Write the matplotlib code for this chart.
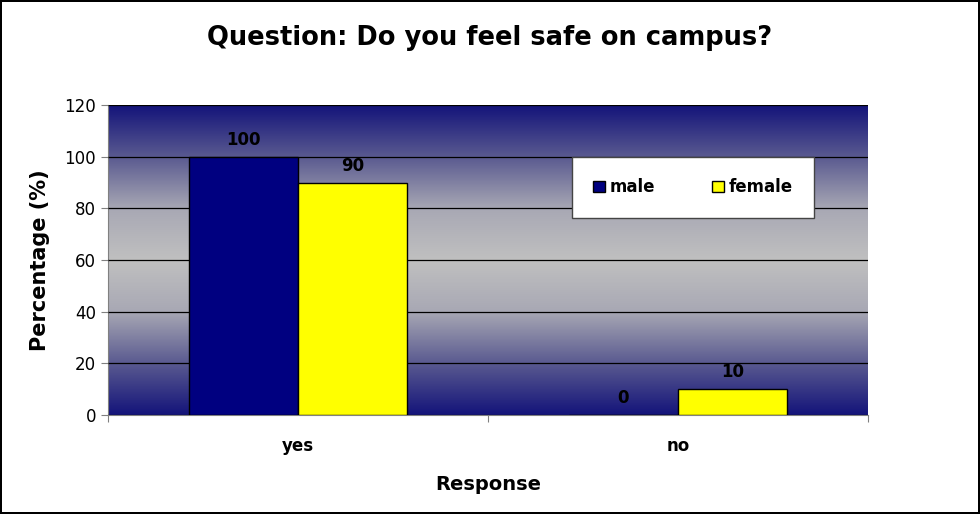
import matplotlib.pyplot as plt
import numpy as np
from matplotlib.colors import LinearSegmentedColormap

categories = ["yes", "no"]
male = [100, 0]
female = [90, 10]
series_names = ["male", "female"]

fig = plt.figure(figsize=(9.8, 5.14), dpi=100)
fig.patch.set_edgecolor("black")
fig.patch.set_linewidth(1.5)
ax = fig.add_axes([0.110, 0.1926, 0.7755, 0.603])

# gradient background: navy at top/bottom, grey in the middle
cmap = LinearSegmentedColormap.from_list("bg", ["#14147a", "#5a5a90", "#a8a8b4", "#c0c0c0",
                                                "#a8a8b4", "#5a5a90", "#14147a"])
grad = np.linspace(0, 1, 256).reshape(-1, 1)
ax.imshow(grad, cmap=cmap, aspect="auto", extent=[0, 1, 0, 1],
          transform=ax.transAxes, zorder=0)

x = np.arange(len(categories))
w = 0.287
ax.bar(x - w / 2, male, w, color="#000080", edgecolor="black", linewidth=1,
       label=series_names[0], zorder=3)
ax.bar(x + w / 2, female, w, color="#ffff00", edgecolor="black", linewidth=1,
       label=series_names[1], zorder=3)

for i in range(len(categories)):
    ax.text(x[i] - w / 2, male[i] + 3, str(male[i]), ha="center", va="bottom",
            fontsize=12, fontweight="bold", zorder=4)
    ax.text(x[i] + w / 2, female[i] + 3, str(female[i]), ha="center", va="bottom",
            fontsize=12, fontweight="bold", zorder=4)

ax.set_xlim(-0.5, 1.5)
ax.set_ylim(0, 120)
ax.set_yticks(range(0, 121, 20))
ax.yaxis.grid(True, color="black", linewidth=0.9, zorder=1)
ax.set_axisbelow(False)
ax.set_xticks([-0.5, 0.5, 1.5])
ax.set_xticklabels([])
ax.set_xticks(x, minor=True)
ax.set_xticklabels(categories, minor=True, fontsize=12, fontweight="bold")
ax.tick_params(axis="x", which="minor", length=0, pad=16)
ax.tick_params(axis="x", which="major", length=5, color="gray")
ax.tick_params(axis="y", labelsize=12, length=5, color="gray")
for s in ["top", "right"]:
    ax.spines[s].set_visible(False)
ax.spines["left"].set_color("gray")
ax.spines["bottom"].set_color("gray")

ax.set_xlabel("Response", fontsize=14, fontweight="bold", labelpad=14)
ax.set_ylabel("Percentage (%)", fontsize=15, fontweight="bold", labelpad=10)
fig.text(0.5, 0.926, "Question: Do you feel safe on campus?", ha="center", va="center",
         fontsize=18.5, fontweight="bold")

leg = ax.legend(loc="center", bbox_to_anchor=(0.77, 0.735), ncol=2, fancybox=False,
                framealpha=1, edgecolor="#444444", prop={"weight": "bold", "size": 12},
                handlelength=0.7, handleheight=0.7, handletextpad=0.3,
                borderpad=1.3, columnspacing=3.4)
leg.get_frame().set_linewidth(1)
leg.set_zorder(5)

fig.savefig("out.png", dpi=100, edgecolor=fig.get_edgecolor())
